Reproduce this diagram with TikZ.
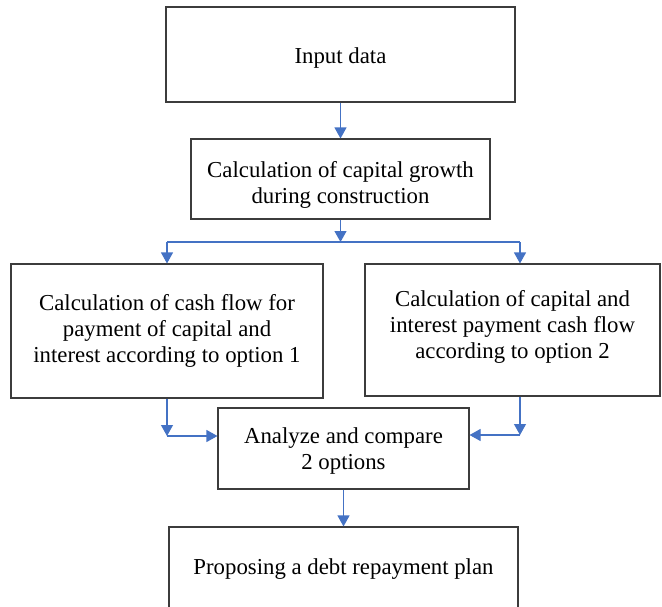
\documentclass[tikz,border=0pt]{standalone}
\usepackage{fontspec}
\setmainfont{Liberation Serif}
\usetikzlibrary{arrows.meta}
\definecolor{flowblue}{RGB}{68,114,196}
\definecolor{boxgray}{RGB}{60,60,60}
\tikzset{
    box/.style={draw=boxgray, line width=1.1pt, inner sep=0pt, align=center,
        font=\fontsize{22.8}{26}\selectfont},
    push/.style={execute at begin node={\rule{0pt}{#1pt}}},
    lift/.style={execute at end node={\rule[-#1pt]{0pt}{0pt}}},
    flow/.style={draw=flowblue, line width=1.1pt, -{Triangle[width=12pt,length=11pt]}},
    line/.style={draw=flowblue, line width=1.1pt}
}
\begin{document}
\begin{tikzpicture}[x=1pt,y=-1pt]
    \useasboundingbox (0,0) rectangle (662,606);
    \node[box, push=23.6, minimum width=349pt, minimum height=95pt] (input) at (340.5,54.5) {Input data};
    \node[box, push=53.6, minimum width=299pt, minimum height=80pt] (growth) at (340.5,179) {Calculation of capital growth\\during construction};
    \node[box, minimum width=312pt, minimum height=134pt] (opt1) at (167,331) {Calculation of cash flow for\\payment of capital and\\interest according to option 1};
    \node[box, lift=10.9, minimum width=295pt, minimum height=132pt] (opt2) at (512.5,330) {Calculation of capital and\\interest payment cash flow\\according to option 2};
    \node[box, push=47.6, minimum width=251pt, minimum height=81pt] (compare) at (343.5,448.5) {Analyze and compare\\2 options};
    \node[box, minimum width=349pt, minimum height=84pt] (plan) at (343.5,569) {Proposing a debt repayment plan};
    \coordinate (split) at (340.5,242);
    \coordinate (splitL) at (167,242);
    \coordinate (splitR) at (520,242);
    \coordinate (joinL) at (167,436);
    \coordinate (joinR) at (520,435);
    \draw[flow] (input) -- (growth);
    \draw[flow] (growth) -- (split);
    \draw[line] (splitL) -- (splitR);
    \draw[flow] (splitL) -- (opt1);
    \draw[flow] (splitR) -- (splitR |- opt2.north);
    \draw[flow] (opt1) -- (joinL);
    \draw[flow] (joinL) -- (compare.west |- joinL);
    \draw[flow] (joinR |- opt2.south) -- (joinR);
    \draw[flow] (joinR) -- (compare.east |- joinR);
    \draw[flow] (compare) -- (plan);
\end{tikzpicture}
\end{document}
